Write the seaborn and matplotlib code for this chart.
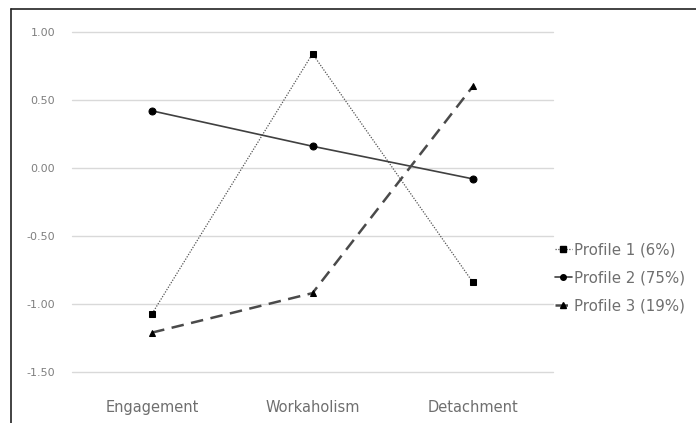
import numpy as np
import pandas as pd
import seaborn as sns
import matplotlib.pyplot as plt
from matplotlib.lines import Line2D

# data
categories = ['Engagement', 'Workaholism', 'Detachment']
profile_1 = [-1.07, 0.84, -0.84]
profile_2 = [0.42, 0.16, -0.08]
profile_3 = [-1.21, -0.92, 0.60]
series_names = ['Profile 1 (6%)', 'Profile 2 (75%)', 'Profile 3 (19%)']
y_ticks = [1.0, 0.5, 0.0, -0.5, -1.0, -1.5]

df = pd.DataFrame({
    'x': np.tile(np.arange(len(categories)), 3),
    'value': profile_1 + profile_2 + profile_3,
    'profile': np.repeat(series_names, len(categories)),
})

sns.set_style('white')
plt.rcParams['font.family'] = ['DejaVu Sans']

fig = plt.figure(figsize=(6.96, 4.23), dpi=100)
ax = fig.add_axes([72 / 696, 1 - 372 / 423, (553 - 72) / 696, (372 - 32) / 423])

styles = {
    series_names[0]: dict(marker='s', linestyle=(0, (1, 1.2)), linewidth=0.9, color='#555555', ms=5),
    series_names[1]: dict(marker='o', linestyle='-', linewidth=1.2, color='#404040', ms=5),
    series_names[2]: dict(marker='^', linestyle=(0, (5, 3)), linewidth=1.8, color='#4a4a4a', ms=5),
}

for name in series_names:
    st = styles[name]
    sub = df[df['profile'] == name]
    sns.lineplot(data=sub, x='x', y='value', ax=ax, color=st['color'],
                 linewidth=st['linewidth'], marker=st['marker'], markersize=st['ms'],
                 markerfacecolor='black', markeredgecolor='black', legend=False)
    ax.lines[-1].set_linestyle(st['linestyle'])

ax.set_xlim(-0.5, 2.5)
ax.set_ylim(-1.5, 1.0)
ax.set_yticks(y_ticks)
ax.set_yticklabels([f'{v:.2f}' for v in y_ticks], fontsize=8, color='#7f7f7f')
ax.set_xticks(range(len(categories)))
ax.set_xticklabels(categories, fontsize=10.5, color='#6f6f6f')
ax.tick_params(axis='x', length=0, pad=20)
ax.tick_params(axis='y', length=0, pad=12)
ax.grid(axis='y', color='#d9d9d9', linewidth=1)
for gl in ax.get_ygridlines():
    gl.set_clip_on(False)
ax.set_axisbelow(True)
for s in ax.spines.values():
    s.set_visible(False)
ax.set_xlabel('')
ax.set_ylabel('')

handles = [Line2D([0], [0], color=styles[n]['color'], linestyle=styles[n]['linestyle'],
                  linewidth=styles[n]['linewidth'], marker=styles[n]['marker'],
                  markersize=4, markerfacecolor='black', markeredgecolor='black')
           for n in series_names]
leg = fig.legend(handles, series_names, loc='center left', bbox_to_anchor=(555 / 696, 1 - 278 / 423),
                 frameon=False, fontsize=10.8, handlelength=1.1, handletextpad=0.15,
                 labelspacing=0.85, borderaxespad=0, borderpad=0)
for t in leg.get_texts():
    t.set_color('#6f6f6f')

# outer border (only top and left visible in the reference)
fig.add_artist(Line2D([11 / 696, 11 / 696], [0, 1 - 9 / 423], transform=fig.transFigure, color='#222222', linewidth=1.2))
fig.add_artist(Line2D([11 / 696, 1], [1 - 9 / 423, 1 - 9 / 423], transform=fig.transFigure, color='#222222', linewidth=1.2))

fig.savefig('out.png', dpi=100)
